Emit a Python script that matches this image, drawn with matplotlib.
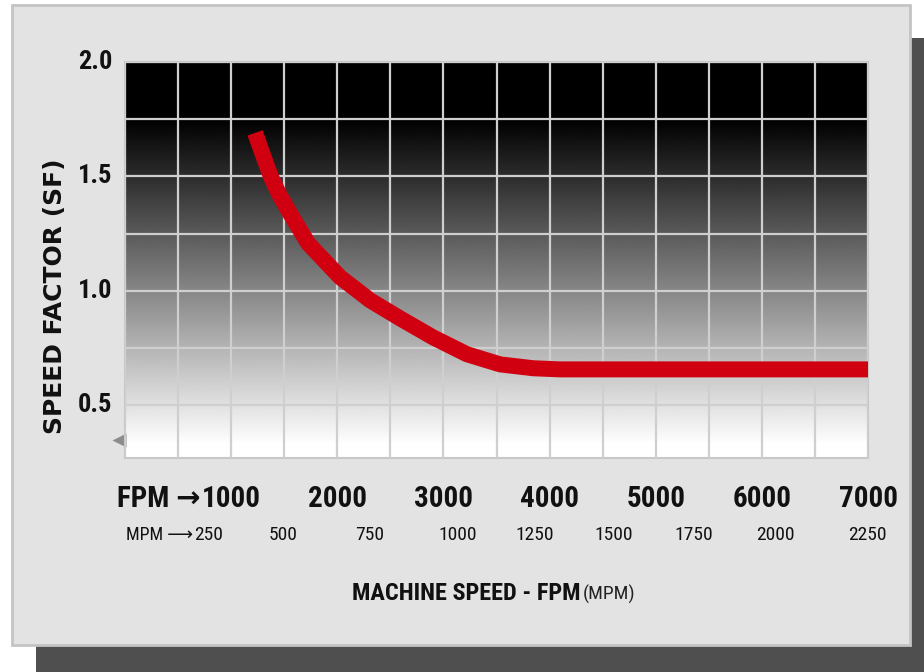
import numpy as np
import matplotlib.pyplot as plt
from matplotlib.patches import Rectangle

# curve: machine speed (FPM) vs speed factor
fpm = [1225, 1300, 1376, 1451, 1536, 1724, 2026, 2308, 2591, 2902, 3222, 3533, 3844, 4098, 5000, 6000, 7000]
sf = [1.69, 1.593, 1.497, 1.423, 1.353, 1.208, 1.06, 0.959, 0.88, 0.797, 0.723, 0.679, 0.662, 0.657,
      0.657, 0.657, 0.657]

fpm_ticks = [1000, 2000, 3000, 4000, 5000, 6000, 7000]
mpm_labels = ['250', '500', '750', '1000', '1250', '1500', '1750', '2000', '2250']
mpm_label_x = [790, 1489, 2308, 3137, 3863, 4607, 5361, 6124, 6991]  # where the MPM labels sit (in FPM)
sf_ticks = [0.5, 1.0, 1.5, 2.0]

narrow = ['DejaVu Sans Condensed', 'Roboto Condensed', 'Roboto', 'DejaVu Sans']

fig = plt.figure(figsize=(9.24, 6.72), dpi=100)
fig.patch.set_facecolor('white')

# drop shadow + light gray panel (behind the axes)
fig.patches.append(Rectangle((0.039, 0.0), 0.961, 0.9435, transform=fig.transFigure,
                             facecolor='#4f4f4f', edgecolor='none', zorder=-3))
fig.patches.append(Rectangle((0.013, 0.040), 0.972, 0.9526, transform=fig.transFigure,
                             facecolor='#e3e3e3', edgecolor='#c4c4c4', lw=2, zorder=-2))

ax = fig.add_axes([0.1353, 0.3185, 0.8041, 0.5893])
ax.set_xlim(0, 7000)
ax.set_ylim(0.27, 2.0)

# background: black at top, fading to white at the bottom
yy = np.linspace(2.0, 0.27, 400)
g = np.clip((1.75 - yy) / (1.75 - 0.33), 0, 1)
ax.imshow(g[:, None], cmap='gray', vmin=0, vmax=1, extent=[0, 7000, 0.27, 2.0],
          aspect='auto', zorder=0, interpolation='bilinear')

ax.set_xticks(np.arange(0, 7001, 500))
ax.set_yticks(np.arange(0.5, 2.01, 0.25))
ax.set_xticklabels([])
ax.set_yticklabels([])
ax.tick_params(length=0)
ax.grid(True, color='#cfcfcf', lw=1.6)
ax.set_axisbelow(False)
for s in ax.spines.values():
    s.set_color('#c8c8c8')
    s.set_linewidth(1.5)

ax.plot(fpm, sf, color='#d10010', lw=11.5, solid_capstyle='butt', solid_joinstyle='round', zorder=3)

# little gray pointer at the left edge
ax.plot([-60], [0.35], marker='<', ms=10, color='#8c8c8c', mec='none', clip_on=False)

# y tick labels
for v in sf_ticks:
    ax.text(-120, v, f'{v:.1f}', ha='right', va='center', fontsize=19, fontweight='bold',
            family=narrow, color='#111111')

# FPM and MPM labels
xt = ax.get_xaxis_transform()
for v in fpm_ticks:
    ax.text(v, -0.125, str(v), ha='center', va='baseline', fontsize=21, fontweight='bold',
            family=narrow, color='#111111', transform=xt)
ax.text(fpm_ticks[0] - 290, -0.125, 'FPM \u2192', ha='right', va='baseline', fontsize=21,
        fontweight='bold', family=narrow, color='#111111', transform=xt)
for x, lab in zip(mpm_label_x, mpm_labels):
    ax.text(x, -0.207, lab, ha='center', va='baseline', fontsize=14,
            family=narrow, color='#111111', transform=xt)
ax.text(mpm_label_x[0] - 150, -0.207, 'MPM \u27f6', ha='right', va='baseline', fontsize=13,
        family=narrow, color='#111111', transform=xt)

# axis titles
fig.text(0.0595, 0.5595, 'SPEED FACTOR (SF)', rotation=90, ha='center', va='center',
         fontsize=18, fontweight='bold', family='DejaVu Sans', color='#111111')
fig.text(0.628, 0.107, 'MACHINE SPEED - FPM', ha='right', va='baseline', fontsize=17.5,
         fontweight='bold', family=narrow, color='#111111')
fig.text(0.631, 0.107, '(MPM)', ha='left', va='baseline', fontsize=14,
         family=narrow, color='#222222')

plt.savefig('out.png', dpi=100)
